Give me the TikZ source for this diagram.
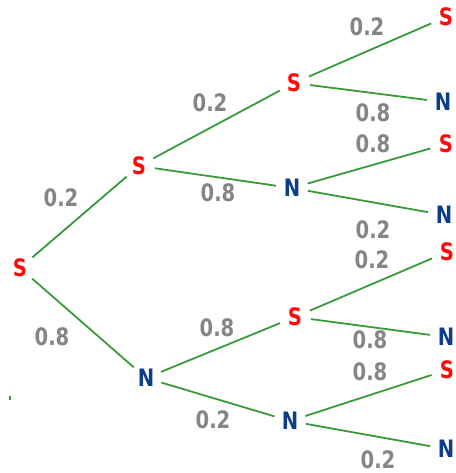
\documentclass[tikz,border=0pt]{standalone}
\usepackage{fontspec}
\usepackage{graphicx}
\setmainfont{DejaVu Sans}
\newcommand\tallt[1]{\scalebox{0.98}[1.2]{#1}}
\definecolor{sred}{HTML}{FF0A0A}
\definecolor{nblue}{HTML}{0A3D8C}
\definecolor{lgrey}{HTML}{858585}
\definecolor{lgreen}{HTML}{3A9A3A}
\begin{document}
\begin{tikzpicture}[x=1pt,y=-1pt,
  st/.style={circle,minimum size=32pt,inner sep=0pt,font=\fontsize{20}{20}\selectfont\bfseries},
  sn/.style={st,text=sred},
  nn/.style={st,text=nblue},
  pr/.style={fill=white,inner sep=1pt,text=lgrey,font=\fontsize{20}{20}\selectfont\bfseries},
  br/.style={draw=lgreen,line width=1.8pt}]
\useasboundingbox (0,0) rectangle (455,473);
% nodes
\node[sn] (r) at (20,268) {\tallt{S}};
\node[sn] (a) at (139,166) {\tallt{S}};
\node[nn] (b) at (146,378) {\tallt{N}};
\node[sn] (aa) at (294,83) {\tallt{S}};
\node[nn] (ab) at (292,188) {\tallt{N}};
\node[sn] (ba) at (295,317) {\tallt{S}};
\node[nn] (bb) at (290,421) {\tallt{N}};
\node[sn] (aaa) at (446,17) {\tallt{S}};
\node[nn] (aab) at (443,102) {\tallt{N}};
\node[sn] (aba) at (446,144) {\tallt{S}};
\node[nn] (abb) at (444,215) {\tallt{N}};
\node[sn] (baa) at (447,252) {\tallt{S}};
\node[nn] (bab) at (446,337) {\tallt{N}};
\node[sn] (bba) at (447,370) {\tallt{S}};
\node[nn] (bbb) at (446,449) {\tallt{N}};
% branches
\draw[br] (r) -- (a);
\draw[br] (r) -- (b);
\draw[br] (a) -- (aa);
\draw[br] (a) -- (ab);
\draw[br] (b) -- (ba);
\draw[br] (b) -- (bb);
\draw[br] (aa) -- (aaa);
\draw[br] (aa) -- (aab);
\draw[br] (ab) -- (aba);
\draw[br] (ab) -- (abb);
\draw[br] (ba) -- (baa);
\draw[br] (ba) -- (bab);
\draw[br] (bb) -- (bba);
\draw[br] (bb) -- (bbb);
% probabilities
\node[pr] (p1) at (61,198) {\tallt{0.2}};
\node[pr] (p2) at (52,337) {\tallt{0.8}};
\node[pr] (p3) at (210,103) {\tallt{0.2}};
\node[pr] (p4) at (218,193) {\tallt{0.8}};
\node[pr] (p5) at (217,328) {\tallt{0.8}};
\node[pr] (p6) at (213,420) {\tallt{0.2}};
\node[pr] (p7) at (367,27) {\tallt{0.2}};
\node[pr] (p8) at (373,113) {\tallt{0.8}};
\node[pr] (p9) at (373,144) {\tallt{0.8}};
\node[pr] (p10) at (373,230) {\tallt{0.2}};
\node[pr] (p11) at (372,260) {\tallt{0.2}};
\node[pr] (p12) at (370,340) {\tallt{0.8}};
\node[pr] (p13) at (370,372) {\tallt{0.8}};
\node[pr] (p14) at (378,460) {\tallt{0.2}};
% stray dot
\fill[lgreen] (9,396) rectangle (11,400);
\end{tikzpicture}
\end{document}
